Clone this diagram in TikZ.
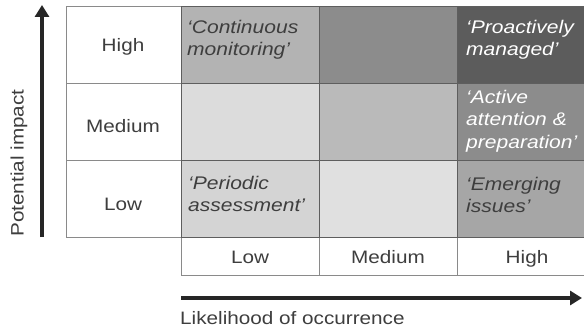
\documentclass[tikz,border=0pt]{standalone}
\usepackage{fontspec}
\setmainfont{Liberation Sans}[FakeStretch=1.15]
\usetikzlibrary{arrows.meta}
\definecolor{txt}{HTML}{3E3E3E}
\definecolor{gridc}{HTML}{5E5E5E}
\definecolor{lblc}{HTML}{8A8A8A}
\definecolor{hA}{HTML}{B3B3B3}
\definecolor{hB}{HTML}{8C8C8C}
\definecolor{hC}{HTML}{5C5C5C}
\definecolor{mA}{HTML}{DCDCDC}
\definecolor{mB}{HTML}{BABABA}
\definecolor{mC}{HTML}{8C8C8C}
\definecolor{lA}{HTML}{D4D4D4}
\definecolor{lB}{HTML}{E0E0E0}
\definecolor{lC}{HTML}{A6A6A6}
\tikzset{
  lbl/.style={font=\fontsize{18}{22}\selectfont, text=txt, inner sep=0pt, anchor=base},
  note/.style={font=\fontsize{18.3}{22.5}\selectfont\itshape, text=txt, inner sep=0pt, anchor=north west, align=left},
  notew/.style={note, text=white},
  axis/.style={line width=3.5pt, draw=black!85, -{Triangle[length=12pt,width=14pt]}},
  cellline/.style={draw=gridc, line width=1pt},
  lblline/.style={draw=lblc, line width=1pt}
}
\begin{document}
\begin{tikzpicture}[x=1pt,y=-1pt]
\useasboundingbox (0,0) rectangle (584,329);
\fill[white] (0,0) rectangle (584,329);
\begin{scope}
\clip (0,0) rectangle (584,329);
% matrix cells
\fill[hA] (181,7) rectangle (319,84);
\fill[hB] (319,7) rectangle (457,84);
\fill[hC] (457,7) rectangle (597,84);
\fill[mA] (181,84) rectangle (319,160);
\fill[mB] (319,84) rectangle (457,160);
\fill[mC] (457,84) rectangle (597,160);
\fill[lA] (181,160) rectangle (319,237);
\fill[lB] (319,160) rectangle (457,237);
\fill[lC] (457,160) rectangle (597,237);
% label cells
\draw[lblline] (66,7) rectangle (181,237);
\draw[lblline] (66,84) -- (181,84) (66,160) -- (181,160);
\draw[lblline] (181,237) rectangle (597,275);
\draw[lblline] (319,237) -- (319,275) (457,237) -- (457,275);
% grid lines
\draw[cellline] (181,7) rectangle (597,237);
\draw[cellline] (181,84) -- (597,84) (181,160) -- (597,160);
\draw[cellline] (319,7) -- (319,237) (457,7) -- (457,237);
\end{scope}
% row labels
\node[lbl] (rH) at (123,52) {High};
\node[lbl] (rM) at (123,132) {Medium};
\node[lbl] (rL) at (123,210) {Low};
% column labels
\node[lbl] (cL) at (250,263) {Low};
\node[lbl] (cM) at (388,263) {Medium};
\node[lbl] (cH) at (527,263) {High};
% notes
\node[note] (n1) at (187,20) {`Continuous\\monitoring'};
\node[notew] (n2) at (466,20) {`Proactively\\managed'};
\node[notew] (n3) at (466,90) {`Active\\attention \&\\preparation'};
\node[note] (n4) at (188,176) {`Periodic\\assessment'};
\node[note] (n5) at (466,177) {`Emerging\\issues'};
% axes
\coordinate (ya0) at (42,237);
\coordinate (ya1) at (42,5);
\coordinate (xa0) at (181,298);
\coordinate (xa1) at (582,298);
\draw[axis] (ya0) -- (ya1);
\draw[axis] (xa0) -- (xa1);
\node[lbl, anchor=center, rotate=90] (ylab) at (19,163) {Potential impact};
\node[lbl, anchor=base west] (xlab) at (180,324) {Likelihood of occurrence};
\end{tikzpicture}
\end{document}
